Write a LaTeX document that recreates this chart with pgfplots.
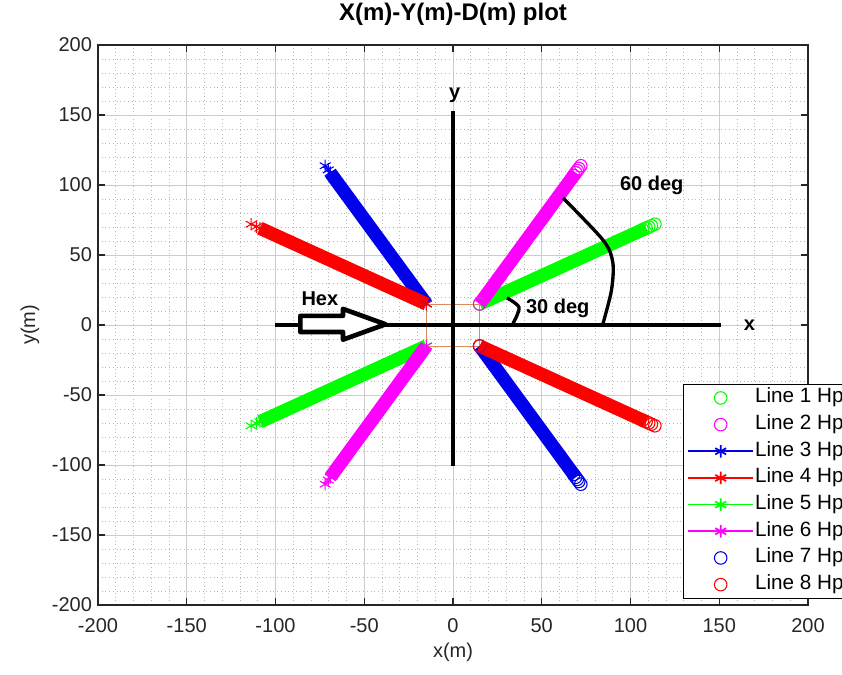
\documentclass[border=0pt]{standalone}
\usepackage{pgfplots}
\pgfplotsset{compat=1.18}
\usepackage{fontspec}
\setmainfont{Liberation Sans}
\definecolor{mgreen}{rgb}{0,1,0}
\definecolor{mmag}{rgb}{1,0,1}
\definecolor{mblue}{rgb}{0,0,0.92}
\definecolor{mred}{rgb}{1,0,0}
\definecolor{hexc}{rgb}{0.85,0.55,0.35}
\begin{document}
\begin{tikzpicture}
\begin{axis}[name=ax, scale only axis, width=532.5pt, height=420pt,
 xmin=-200, xmax=200, ymin=-200, ymax=200,
 xtick={-200,-150,...,200}, ytick={-200,-150,...,200},
 minor tick num=4,
 grid=both,
 major grid style={black!20, line width=0.6pt},
 minor grid style={black!28, dash pattern=on 0.6pt off 2.2pt, line width=0.6pt},
 tick align=inside,
 major tick length=5pt, minor tick length=0pt,
 axis line style={line width=1pt, black!85},
 every tick/.style={black!85, line width=0.8pt},
 tick label style={font=\fontsize{15}{18}\selectfont, text=black!85},
 /pgf/number format/assume math mode=true,
 xticklabel style={yshift=-7pt},
 yticklabel style={xshift=-1pt},
 xlabel={x(m)}, ylabel={y(m)},
 label style={font=\fontsize{15}{18}\selectfont, text=black!85},
 xlabel style={at={(axis description cs:0.5,-0.084)}, anchor=center},
 ylabel style={at={(axis description cs:-0.0958,0.5)}, anchor=center, rotate=0},
 title={\textbf{X(m)-Y(m)-D(m) plot}},
 title style={font=\fontsize{18}{21}\selectfont, at={(axis description cs:0.5,1.040)}, anchor=center},
 legend style={at={(0.824,0.011)}, anchor=south west, font=\fontsize{15.5}{18}\selectfont,
   draw=black, line width=0.8pt, fill=white, row sep=3.5pt,
   nodes={inner sep=1pt, text height=11pt, text depth=3.5pt}},
 legend cell align=left,
 legend image code/.code={\draw[mark repeat=2,mark phase=2,#1,line width=1.3pt] plot coordinates {(0cm,0cm) (0.85cm,0cm) (1.7cm,0cm)};},
]
% hexagon outline
\addplot[hexc, line width=0.7pt, forget plot] coordinates {(-15,15) (15,15) (15,-15) (-15,-15) (-15,15)};
% Line 1
\addplot[mgreen, line width=10pt, forget plot] coordinates {(15,15) (108.79,69.15)};
\addplot[mgreen, only marks, mark=o, mark size=4.7pt, mark options={line width=0.8pt}] coordinates {(15,15) (106.82,68.01) (108.79,69.15) (110.27,70.01) (111.76,70.86) (113.73,72.0)};
\addlegendentry{Line 1 Hp\rule{22pt}{0pt}}
% Line 2
\addplot[mmag, line width=10pt, forget plot] coordinates {(15,15) (69.15,108.79)};
\addplot[mmag, only marks, mark=o, mark size=4.7pt, mark options={line width=0.8pt}] coordinates {(15,15) (68.01,106.82) (69.15,108.79) (70.01,110.27) (70.86,111.76) (72.0,113.73)};
\addlegendentry{Line 2 Hp}
% Line 3
\addplot[mblue, line width=10pt, forget plot] coordinates {(-15,15) (-69.15,108.79)};
\addplot[mblue, mark=asterisk, mark size=4.7pt, line width=0.8pt] coordinates {(-15,15) (-69.15,108.79) (-70.29,110.77) (-72.0,113.73)};
\addlegendentry{Line 3 Hp}
% Line 4
\addplot[mred, line width=10pt, forget plot] coordinates {(-15,15) (-108.79,69.15)};
\addplot[mred, mark=asterisk, mark size=4.7pt, line width=0.8pt] coordinates {(-15,15) (-108.79,69.15) (-110.77,70.29) (-113.73,72.0)};
\addlegendentry{Line 4 Hp}
% Line 5
\addplot[mgreen, line width=10pt, forget plot] coordinates {(-15,-15) (-108.79,-69.15)};
\addplot[mgreen, mark=asterisk, mark size=4.7pt, line width=0.8pt] coordinates {(-15,-15) (-108.79,-69.15) (-110.77,-70.29) (-113.73,-72.0)};
\addlegendentry{Line 5 Hp}
% Line 6
\addplot[mmag, line width=10pt, forget plot] coordinates {(-15,-15) (-69.15,-108.79)};
\addplot[mmag, mark=asterisk, mark size=4.7pt, line width=0.8pt] coordinates {(-15,-15) (-69.15,-108.79) (-70.29,-110.77) (-72.0,-113.73)};
\addlegendentry{Line 6 Hp}
% Line 7
\addplot[mblue, line width=10pt, forget plot] coordinates {(15,-15) (69.15,-108.79)};
\addplot[mblue, only marks, mark=o, mark size=4.7pt, mark options={line width=0.8pt}] coordinates {(15,-15) (68.01,-106.82) (69.15,-108.79) (70.01,-110.27) (70.86,-111.76) (72.0,-113.73)};
\addlegendentry{Line 7 Hp}
% Line 8
\addplot[mred, line width=10pt, forget plot] coordinates {(15,-15) (108.79,-69.15)};
\addplot[mred, only marks, mark=o, mark size=4.7pt, mark options={line width=0.8pt}] coordinates {(15,-15) (106.82,-68.01) (108.79,-69.15) (110.27,-70.01) (111.76,-70.86) (113.73,-72.0)};
\addlegendentry{Line 8 Hp}
% annotations
\draw[black, line width=3pt] (axis cs:-100,0) -- (axis cs:151,0);
\draw[black, line width=3pt] (axis cs:0,-101) -- (axis cs:0,153);
\node[font=\fontsize{15}{18}\selectfont\bfseries] at (axis cs:167,0) {x};
\node[font=\fontsize{15}{18}\selectfont\bfseries] at (axis cs:1,164) {y};
\draw[black, line width=3.5pt, fill=white, line join=round] (axis cs:-86,6.5) -- (axis cs:-62,6.5) -- (axis cs:-62,11.5) -- (axis cs:-38,0.5) -- (axis cs:-62,-10.5) -- (axis cs:-62,-5) -- (axis cs:-86,-5) -- cycle;
\node[font=\fontsize{15}{18}\selectfont\bfseries] at (axis cs:-75,19) {Hex};
\draw[black, line width=2.5pt] plot[smooth] coordinates {(axis cs:30.4,19.3) (axis cs:37.2,12.5) (axis cs:33.8,1)};
\draw[black, line width=2.5pt] plot[smooth] coordinates {(axis cs:62,90.7) (axis cs:84.5,60.7) (axis cs:90,45) (axis cs:89.3,25) (axis cs:84.5,1)};
\node[font=\fontsize{15}{18}\selectfont\bfseries] at (axis cs:59,12) {30 deg};
\node[font=\fontsize{15}{18}\selectfont\bfseries] at (axis cs:112,100) {60 deg};
\end{axis}
\pgfresetboundingbox
\path ([shift={(-73.5pt,-52.5pt)}]ax.south west) rectangle ([shift={(25.5pt,33.75pt)}]ax.north east);
\end{tikzpicture}
\end{document}
